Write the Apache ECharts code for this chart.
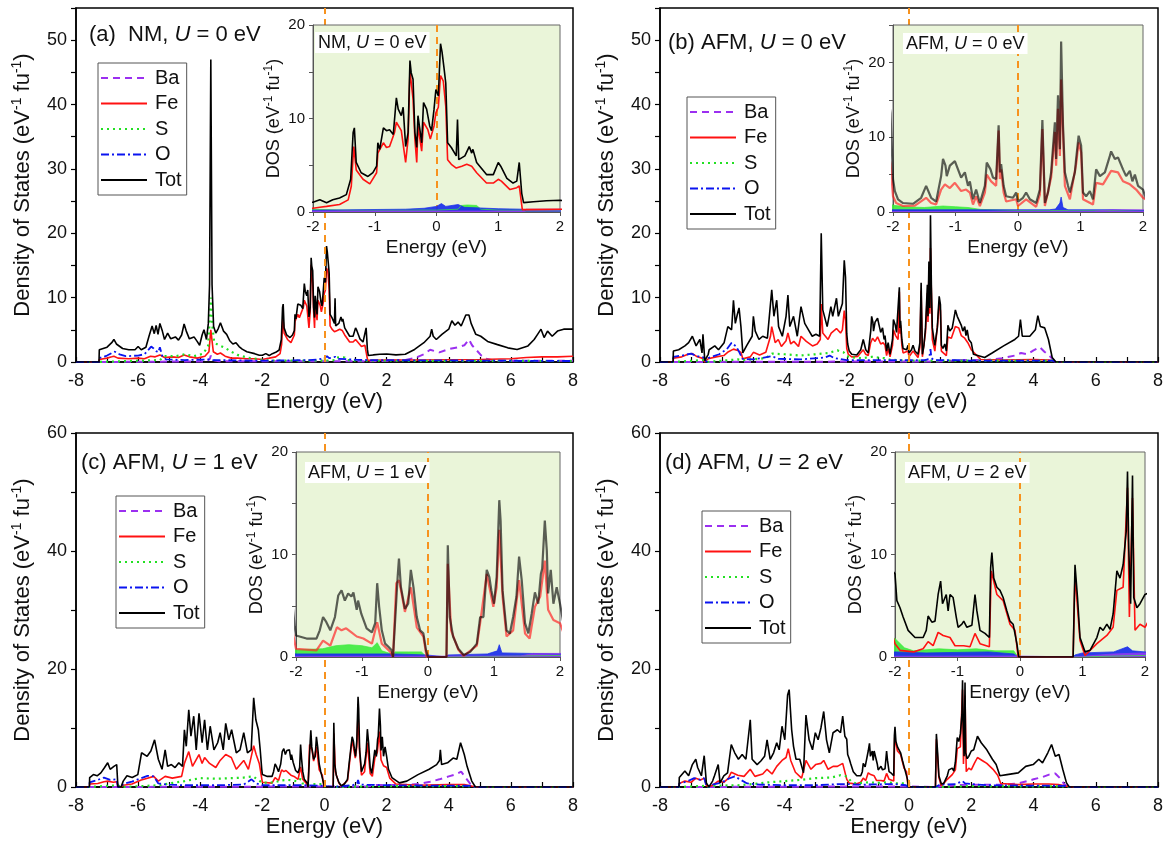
<!DOCTYPE html>
<html>
<head>
<meta charset="utf-8">
<script src="https://cdn.jsdelivr.net/npm/echarts@6/dist/echarts.min.js"></script>
<style>
html,body{margin:0;padding:0;background:#fff}
#chart{width:1167px;height:847px}
</style>
</head>
<body>
<div id="chart"></div>
<script>
// ---------- Projected DOS, [energy (eV), DOS (eV^-1 fu^-1)] ----------
// (a) NM, U = 0 eV
const tot_a = [[-8,0],[-7.26,0],[-7.25,1.9],[-7.0,2.3],[-6.85,3.0],[-6.78,3.5],[-6.7,2.8],[-6.5,2.1],[-6.3,1.9],[-6.1,1.9],[-6.0,2.4],[-5.9,1.9],[-5.75,2.3],[-5.65,4.0],[-5.55,5.6],[-5.48,4.4],[-5.42,5.7],[-5.36,4.3],[-5.3,6.0],[-5.22,4.8],[-5.15,3.5],[-5.05,4.5],[-4.95,3.6],[-4.8,3.9],[-4.7,3.4],[-4.6,4.2],[-4.52,5.9],[-4.45,4.8],[-4.35,3.6],[-4.2,3.9],[-4.1,3.2],[-4.02,2.6],[-3.94,4.2],[-3.88,5.0],[-3.8,3.5],[-3.74,6.0],[-3.7,12.0],[-3.66,47.0],[-3.62,12.0],[-3.57,5.5],[-3.5,4.5],[-3.42,5.2],[-3.35,6.1],[-3.25,4.8],[-3.15,4.3],[-3.05,3.3],[-2.95,2.8],[-2.85,3.0],[-2.75,2.4],[-2.65,2.0],[-2.5,1.6],[-2.25,1.3],[-2.1,1.05],[-2.0,1.04],[-1.89,1.3],[-1.78,1.0],[-1.68,1.3],[-1.57,1.5],[-1.46,1.86],[-1.39,3.5],[-1.35,8.5],[-1.33,9.0],[-1.30,5.3],[-1.22,4.2],[-1.11,3.8],[-1.03,4.2],[-0.97,4.9],[-0.95,7.4],[-0.92,6.7],[-0.86,9.0],[-0.81,8.7],[-0.76,8.8],[-0.70,8.3],[-0.65,12.2],[-0.62,11.0],[-0.57,10.3],[-0.54,11.2],[-0.50,7.0],[-0.46,8.5],[-0.43,16.2],[-0.41,14.9],[-0.38,14.2],[-0.35,8.5],[-0.32,6.9],[-0.30,10.3],[-0.24,7.4],[-0.21,11.7],[-0.16,11.0],[-0.11,9.2],[-0.08,8.7],[-0.04,11.0],[-0.01,13.1],[0.03,12.4],[0.065,18.0],[0.09,17.1],[0.12,15.5],[0.15,13.8],[0.18,7.4],[0.24,6.9],[0.32,6.0],[0.34,9.9],[0.36,5.6],[0.46,6.0],[0.53,7.0],[0.57,6.3],[0.59,6.7],[0.65,5.3],[0.81,4.0],[0.92,4.0],[1.0,5.3],[1.04,4.9],[1.14,3.6],[1.24,3.1],[1.30,3.3],[1.34,5.3],[1.38,2.0],[1.41,1.0],[1.57,1.1],[1.78,1.2],[2.0,1.25],[2.3,1.1],[2.6,1.2],[2.9,1.95],[3.2,3.0],[3.4,4.0],[3.45,5.1],[3.5,4.0],[3.6,3.5],[3.78,4.3],[4.0,5.1],[4.1,6.4],[4.2,5.7],[4.3,6.2],[4.4,5.6],[4.55,7.3],[4.65,7.3],[4.72,6.0],[4.87,4.3],[5.03,4.0],[5.25,3.2],[5.57,2.7],[5.9,2.2],[6.2,1.95],[6.55,2.5],[6.75,3.5],[6.86,4.3],[6.97,5.1],[7.07,3.8],[7.18,4.8],[7.33,4.0],[7.5,4.8],[7.7,5.1],[8.0,5.1]];
const fe_a = [[-8,0],[-7.26,0],[-7.25,0.4],[-7.0,0.6],[-6.85,0.8],[-6.78,0.9],[-6.65,0.6],[-6.3,0.5],[-6.0,0.6],[-5.8,0.5],[-5.6,0.9],[-5.45,0.8],[-5.3,1.1],[-5.15,0.7],[-4.9,0.8],[-4.7,0.7],[-4.52,1.1],[-4.35,0.8],[-4.1,0.6],[-3.85,0.9],[-3.72,1.6],[-3.66,5.0],[-3.58,1.6],[-3.45,1.2],[-3.35,1.4],[-3.2,0.9],[-3.0,0.6],[-2.8,0.6],[-2.5,0.5],[-2.25,0.5],[-2.0,0.4],[-1.89,0.5],[-1.78,0.6],[-1.57,0.8],[-1.43,1.3],[-1.38,2.75],[-1.34,7.0],[-1.30,4.5],[-1.19,3.5],[-1.08,3.0],[-0.97,4.2],[-0.95,6.3],[-0.86,7.4],[-0.81,6.9],[-0.76,7.0],[-0.68,8.5],[-0.65,9.6],[-0.57,8.7],[-0.50,5.3],[-0.46,7.8],[-0.43,15.1],[-0.38,12.1],[-0.35,7.8],[-0.32,5.3],[-0.30,9.2],[-0.24,6.5],[-0.21,9.6],[-0.14,8.8],[-0.10,7.8],[-0.04,9.2],[-0.01,10.6],[0.03,11.2],[0.065,14.6],[0.11,14.0],[0.15,11.3],[0.18,5.6],[0.24,5.1],[0.32,4.7],[0.41,4.9],[0.49,5.1],[0.57,4.9],[0.65,4.2],[0.81,3.1],[0.92,3.1],[1.0,3.5],[1.05,3.3],[1.19,2.4],[1.30,2.6],[1.34,2.8],[1.39,0.25],[2.0,0.3],[3.0,0.3],[4.0,0.35],[5.0,0.4],[6.0,0.5],[6.5,0.7],[7.0,0.8],[7.5,0.8],[8.0,0.9]];
const s_a = [[-8,0],[-7.26,0],[-7.25,0.2],[-6.0,0.2],[-5.3,0.3],[-5.15,0.9],[-4.8,0.9],[-4.5,1.2],[-4.2,0.9],[-3.9,1.3],[-3.75,2.5],[-3.7,6.0],[-3.66,10.0],[-3.62,6.0],[-3.55,3.0],[-3.4,2.6],[-3.2,2.2],[-3.0,1.6],[-2.8,1.1],[-2.5,0.7],[-2.2,0.5],[-2.0,0.3],[-1.5,0.2],[0.0,0.2],[0.35,0.3],[0.4,0.7],[0.5,0.75],[0.65,0.7],[0.72,0.3],[1.0,0.2],[1.4,0.2],[1.45,0.1],[8,0.15]];
const o_a = [[-8,0],[-7.26,0],[-7.25,0.6],[-7.0,1.0],[-6.85,1.4],[-6.75,1.6],[-6.6,1.2],[-6.4,0.9],[-6.0,1.0],[-5.8,1.2],[-5.65,2.0],[-5.58,2.4],[-5.5,2.1],[-5.42,1.7],[-5.35,1.5],[-5.3,2.3],[-5.22,0.9],[-5.1,0.4],[-4.5,0.3],[-3.7,0.4],[-3.6,0.3],[-2.0,0.2],[-0.5,0.3],[-0.2,0.4],[0.0,0.6],[0.08,0.9],[0.15,0.6],[0.35,0.8],[0.45,0.5],[1.0,0.35],[1.4,0.3],[1.45,0.1],[8,0.15]];
const ba_a = [[-8,0],[-7.26,0],[-7.25,0.1],[-3.8,0.1],[-3.69,0.5],[-3.66,1.0],[-3.6,0.3],[-3.4,0.1],[1.4,0.1],[1.45,0.3],[2.6,0.3],[2.9,0.6],[3.2,1.2],[3.4,1.9],[3.55,1.7],[3.7,1.5],[4.0,2.0],[4.3,2.3],[4.5,2.6],[4.65,3.5],[4.75,2.6],[4.9,1.8],[5.05,1.0],[5.2,0.5],[5.5,0.2],[8,0.2]];

// (b) AFM, U = 0 eV
const tot_b = [[-8,0],[-7.58,0],[-7.57,1.7],[-7.4,1.9],[-7.2,2.5],[-7.08,3.0],[-6.96,4.0],[-6.84,2.5],[-6.72,3.5],[-6.65,1.4],[-6.62,4.3],[-6.56,0.2],[-6.5,0],[-6.45,1.2],[-6.42,1.9],[-6.24,2.5],[-6.12,1.9],[-5.94,3.0],[-5.82,5.5],[-5.7,5.0],[-5.64,9.6],[-5.58,6.0],[-5.52,7.3],[-5.46,8.4],[-5.4,5.5],[-5.34,1.4],[-5.22,2.5],[-5.04,4.0],[-5.0,7.1],[-4.94,4.8],[-4.82,3.5],[-4.7,4.0],[-4.55,3.7],[-4.41,11.2],[-4.34,7.1],[-4.25,9.6],[-4.19,5.5],[-4.07,4.0],[-3.95,7.1],[-3.89,10.4],[-3.83,5.5],[-3.71,7.1],[-3.59,4.0],[-3.47,8.6],[-3.35,6.0],[-3.23,5.0],[-3.11,4.0],[-2.99,4.3],[-2.87,4.0],[-2.82,20.0],[-2.77,8.1],[-2.63,5.5],[-2.51,8.6],[-2.45,7.1],[-2.33,9.9],[-2.27,7.1],[-2.14,9.1],[-2.08,15.8],[-2.04,13.2],[-2.0,4.4],[-1.97,2.8],[-1.92,1.7],[-1.84,1.2],[-1.68,1.1],[-1.55,1.9],[-1.47,3.5],[-1.39,1.9],[-1.31,1.4],[-1.23,4.8],[-1.2,7.1],[-1.16,6.2],[-1.14,4.8],[-1.09,6.2],[-1.01,6.8],[-0.96,5.7],[-0.91,4.6],[-0.85,5.3],[-0.8,3.5],[-0.77,4.1],[-0.72,1.7],[-0.67,3.0],[-0.61,1.2],[-0.53,3.5],[-0.5,6.6],[-0.44,5.7],[-0.4,4.6],[-0.35,4.4],[-0.31,11.6],[-0.29,5.3],[-0.27,6.4],[-0.23,3.5],[-0.19,2.1],[-0.08,1.9],[-0.03,2.6],[0.0,1.4],[0.08,1.9],[0.13,2.6],[0.19,1.7],[0.29,1.2],[0.35,3.0],[0.39,12.3],[0.43,1.2],[0.48,2.6],[0.53,5.3],[0.59,12.0],[0.61,7.1],[0.64,15.6],[0.67,8.4],[0.69,22.8],[0.72,11.6],[0.75,5.3],[0.8,3.5],[0.83,2.6],[0.91,5.3],[0.93,7.1],[0.97,10.2],[1.01,8.9],[1.04,2.6],[1.09,2.1],[1.15,2.8],[1.2,1.7],[1.25,5.7],[1.31,4.8],[1.39,5.3],[1.47,7.5],[1.49,8.1],[1.55,7.1],[1.6,7.3],[1.68,5.7],[1.73,4.8],[1.79,5.5],[1.83,4.1],[1.87,5.0],[1.92,3.5],[2.0,3.0],[2.07,1.2],[2.43,0.7],[2.67,1.4],[3.04,2.5],[3.4,3.5],[3.52,4.0],[3.58,6.6],[3.64,4.0],[3.88,4.0],[4.06,5.0],[4.14,7.2],[4.22,5.5],[4.36,5.3],[4.48,3.5],[4.6,0.7],[4.72,0],[8,0]];
const fe_b = [[-8,0],[-7.58,0],[-7.57,0.6],[-7.3,0.8],[-7.1,1.2],[-6.96,1.3],[-6.8,0.8],[-6.65,0.6],[-6.56,0],[-6.5,0],[-6.45,0.5],[-6.2,0.8],[-5.95,1.0],[-5.8,1.6],[-5.64,2.0],[-5.5,1.8],[-5.4,1.5],[-5.34,0.5],[-5.1,0.8],[-5.0,1.5],[-4.8,1.1],[-4.6,1.5],[-4.45,4.0],[-4.41,5.5],[-4.3,3.0],[-4.2,3.5],[-4.1,2.4],[-3.95,3.3],[-3.89,4.5],[-3.8,2.8],[-3.7,3.2],[-3.55,2.4],[-3.47,4.0],[-3.3,3.2],[-3.1,2.5],[-2.95,2.8],[-2.85,3.5],[-2.82,9.0],[-2.77,4.5],[-2.6,3.5],[-2.5,4.5],[-2.33,5.2],[-2.2,4.5],[-2.14,5.0],[-2.08,8.0],[-2.04,6.5],[-2.0,2.1],[-1.95,1.2],[-1.84,0.8],[-1.65,0.85],[-1.47,1.9],[-1.39,1.2],[-1.31,1.0],[-1.23,3.0],[-1.17,3.7],[-1.09,3.2],[-1.01,3.9],[-0.91,2.8],[-0.83,3.0],[-0.77,2.6],[-0.72,1.0],[-0.67,2.1],[-0.61,0.8],[-0.53,2.6],[-0.5,5.0],[-0.43,4.1],[-0.35,3.5],[-0.31,10.9],[-0.29,4.4],[-0.27,5.7],[-0.23,2.6],[-0.19,1.4],[-0.03,1.7],[0.0,0.8],[0.13,1.7],[0.29,0.7],[0.35,2.3],[0.39,11.1],[0.43,0.8],[0.53,4.6],[0.59,10.7],[0.61,6.2],[0.64,13.8],[0.67,7.5],[0.69,17.7],[0.72,10.7],[0.75,3.5],[0.83,1.7],[0.93,6.4],[0.97,9.3],[1.01,8.0],[1.04,1.7],[1.2,1.0],[1.25,3.9],[1.36,3.7],[1.49,5.5],[1.6,5.3],[1.68,4.1],[1.79,3.7],[1.89,3.0],[2.0,1.9],[2.3,0.4],[3.0,0.3],[4.0,0.4],[4.5,0.3],[4.72,0],[8,0]];
const s_b = [[-8,0],[-7.58,0],[-7.57,0.3],[-6.6,0.3],[-6.5,0],[-6.45,0.3],[-5.5,0.4],[-5.3,0.3],[-4.6,0.6],[-4.4,1.3],[-4.0,1.2],[-3.5,1.0],[-3.0,1.2],[-2.6,1.4],[-2.3,1.8],[-2.1,1.5],[-2.0,0.9],[-1.8,0.7],[-1.5,0.6],[-1.2,0.8],[-1.0,0.7],[-0.8,0.6],[-0.6,0.35],[0.0,0.2],[2.0,0.2],[4.6,0.2],[4.72,0],[8,0]];
const o_b = [[-8,0],[-7.58,0],[-7.57,0.8],[-7.3,1.0],[-7.0,1.3],[-6.8,0.9],[-6.6,0.7],[-6.5,0],[-6.45,0.6],[-6.1,1.2],[-5.85,2.0],[-5.7,3.0],[-5.55,2.4],[-5.45,1.5],[-5.35,0.5],[-5.0,0.4],[-4.4,0.9],[-4.2,0.5],[-3.5,0.4],[-2.7,0.7],[-2.55,1.0],[-2.4,0.6],[-2.0,0.3],[0.5,0.3],[0.6,0.4],[0.67,1.2],[0.69,2.0],[0.72,0.6],[0.8,0.3],[1.5,0.3],[2.0,0.2],[4.6,0.2],[4.72,0],[8,0]];
const ba_b = [[-8,0],[-7.58,0],[-7.57,0.1],[1.2,0.1],[1.5,0.3],[2.5,0.3],[3.0,0.6],[3.4,1.0],[3.6,1.4],[3.8,1.2],[4.0,1.8],[4.2,2.3],[4.35,1.6],[4.5,1.0],[4.65,0.3],[4.72,0],[8,0]];

// (c) AFM, U = 1 eV
const tot_c = [[-8,0],[-7.57,0],[-7.56,1.6],[-7.44,2.1],[-7.32,1.9],[-7.2,2.4],[-7.08,3.3],[-6.98,4.1],[-6.9,3.0],[-6.78,3.5],[-6.69,3.8],[-6.65,0],[-6.55,0],[-6.48,1.0],[-6.36,1.9],[-6.19,1.6],[-6.01,2.1],[-5.89,5.8],[-5.71,5.2],[-5.59,6.1],[-5.47,8.0],[-5.35,4.7],[-5.23,3.0],[-5.13,6.3],[-5.05,3.5],[-4.93,3.8],[-4.81,3.3],[-4.69,4.1],[-4.57,3.5],[-4.51,9.7],[-4.45,6.9],[-4.37,13.1],[-4.30,8.6],[-4.21,12.0],[-4.13,6.3],[-4.04,12.5],[-3.94,7.5],[-3.86,11.4],[-3.77,6.3],[-3.68,10.3],[-3.56,6.3],[-3.44,7.5],[-3.36,9.2],[-3.26,6.3],[-3.18,10.8],[-3.08,8.0],[-2.99,9.7],[-2.84,5.8],[-2.72,6.3],[-2.6,9.2],[-2.48,5.8],[-2.36,6.3],[-2.28,15.1],[-2.21,11.4],[-2.13,9.7],[-2.07,6.3],[-2.02,3.0],[-2.0,2.1],[-1.84,1.8],[-1.69,1.8],[-1.64,2.6],[-1.59,3.9],[-1.54,3.4],[-1.48,2.6],[-1.41,3.9],[-1.36,6.0],[-1.31,6.5],[-1.26,5.5],[-1.21,6.2],[-1.16,5.9],[-1.13,6.3],[-1.08,4.6],[-1.06,5.5],[-1.01,4.2],[-0.93,2.8],[-0.85,2.4],[-0.80,3.3],[-0.77,7.2],[-0.74,4.9],[-0.70,2.6],[-0.65,1.3],[-0.60,1.0],[-0.55,0.65],[-0.53,0],[-0.51,0],[-0.5,3.3],[-0.46,7.8],[-0.44,9.6],[-0.41,6.8],[-0.35,4.7],[-0.30,5.2],[-0.26,8.5],[-0.22,6.8],[-0.17,3.9],[-0.12,2.6],[-0.07,2.3],[-0.03,0.65],[0.0,0],[0.28,0],[0.30,10.9],[0.33,3.9],[0.38,2.0],[0.46,0.8],[0.54,0.2],[0.64,0.5],[0.74,1.3],[0.79,3.9],[0.84,3.9],[0.89,8.5],[0.93,7.8],[0.96,6.5],[1.0,5.2],[1.04,7.8],[1.08,15.3],[1.10,13.3],[1.13,6.5],[1.19,2.6],[1.24,2.3],[1.29,3.9],[1.34,5.9],[1.38,9.8],[1.42,7.5],[1.47,3.3],[1.52,2.3],[1.57,4.2],[1.62,6.3],[1.67,5.2],[1.71,8.1],[1.73,8.6],[1.77,13.3],[1.80,10.4],[1.82,6.2],[1.86,8.5],[1.90,5.2],[1.95,6.8],[2.0,5.2],[2.06,3.0],[2.17,1.6],[2.41,0.7],[2.65,1.0],[3.01,2.1],[3.37,3.0],[3.61,3.8],[3.7,4.5],[3.73,6.3],[3.77,3.8],[3.96,4.1],[4.14,4.9],[4.26,4.7],[4.38,7.5],[4.5,5.5],[4.59,3.5],[4.74,1.0],[4.86,0],[8,0]];
const fe_c = [[-8,0],[-7.57,0],[-7.56,0.5],[-7.3,0.6],[-7.1,0.9],[-6.98,1.0],[-6.8,0.8],[-6.69,0.9],[-6.65,0],[-6.55,0],[-6.48,0.3],[-6.2,0.5],[-5.9,1.2],[-5.7,1.5],[-5.5,1.8],[-5.35,1.0],[-5.13,1.8],[-4.9,1.5],[-4.6,1.8],[-4.51,4.0],[-4.37,6.0],[-4.25,3.5],[-4.04,5.5],[-3.94,4.0],[-3.86,5.0],[-3.7,4.0],[-3.5,3.3],[-3.36,4.5],[-3.18,5.5],[-3.0,5.0],[-2.84,3.0],[-2.6,4.5],[-2.45,3.0],[-2.28,7.0],[-2.2,5.5],[-2.1,4.0],[-2.0,0.8],[-1.69,0.65],[-1.59,1.6],[-1.48,1.1],[-1.38,2.9],[-1.31,2.6],[-1.24,2.8],[-1.16,2.4],[-1.08,2.0],[-0.98,1.8],[-0.85,1.3],[-0.77,3.4],[-0.70,1.3],[-0.57,0.5],[-0.53,0],[-0.51,0],[-0.48,7.2],[-0.44,7.5],[-0.40,6.2],[-0.35,4.4],[-0.26,6.8],[-0.17,2.9],[-0.07,2.0],[-0.02,0],[0.28,0],[0.30,9.1],[0.35,2.6],[0.46,0.7],[0.54,0.1],[0.74,1.1],[0.79,3.3],[0.89,8.1],[0.99,4.9],[1.04,6.8],[1.08,12.4],[1.13,5.9],[1.19,2.0],[1.29,2.6],[1.38,7.5],[1.47,2.3],[1.54,1.8],[1.62,4.9],[1.70,5.9],[1.77,9.4],[1.82,4.6],[1.90,3.6],[2.0,3.3],[2.1,1.5],[2.3,0.5],[3.0,0.3],[4.0,0.4],[4.5,0.4],[4.7,0.2],[4.86,0],[8,0]];
const s_c = [[-8,0],[-7.57,0],[-7.56,0.3],[-6.65,0.3],[-6.64,0],[-6.55,0],[-6.5,0.3],[-5.3,0.3],[-5.0,0.6],[-4.5,1.0],[-4.0,1.5],[-3.5,1.4],[-3.0,1.5],[-2.6,1.6],[-2.3,1.8],[-2.0,0.7],[-1.6,0.8],[-1.4,1.1],[-1.2,1.2],[-1.0,1.1],[-0.85,0.9],[-0.77,1.4],[-0.7,0.6],[-0.55,0.3],[-0.53,0],[-0.5,0.5],[-0.3,0.5],[-0.1,0.5],[-0.02,0],[0.28,0],[0.3,0.1],[2.0,0.15],[4.7,0.15],[4.86,0],[8,0]];
const o_c = [[-8,0],[-7.57,0],[-7.56,0.8],[-7.3,1.2],[-7.1,1.6],[-6.9,1.2],[-6.69,1.3],[-6.65,0],[-6.55,0],[-6.48,0.5],[-6.2,0.9],[-5.9,1.5],[-5.7,1.9],[-5.5,1.8],[-5.35,0.6],[-5.0,0.4],[-4.5,0.3],[-3.5,0.3],[-2.6,0.4],[-2.35,1.3],[-2.2,0.6],[-2.0,0.3],[-0.53,0.3],[-0.02,0.2],[0.28,0],[0.3,0.2],[0.9,0.3],[1.05,0.6],[1.08,1.2],[1.12,0.4],[2.0,0.3],[4.7,0.2],[4.86,0],[8,0]];
const ba_c = [[-8,0],[-7.57,0],[-7.56,0.1],[1.4,0.1],[1.6,0.35],[2.5,0.35],[3.0,0.5],[3.4,0.9],[3.7,1.3],[4.0,1.8],[4.2,2.1],[4.4,2.6],[4.55,1.5],[4.7,0.5],[4.86,0],[8,0]];

// (d) AFM, U = 2 eV
const tot_d = [[-8,0],[-7.39,0],[-7.38,1.6],[-7.2,2.7],[-7.08,1.9],[-6.96,3.8],[-6.85,4.7],[-6.79,3.3],[-6.67,1.9],[-6.58,5.3],[-6.51,0.7],[-6.43,0],[-6.31,1.0],[-6.25,1.9],[-6.13,3.8],[-6.07,0.7],[-5.95,1.9],[-5.83,2.4],[-5.71,7.2],[-5.6,5.8],[-5.48,4.7],[-5.36,5.5],[-5.24,4.7],[-5.1,11.4],[-5.04,4.7],[-4.88,3.8],[-4.76,4.4],[-4.64,5.2],[-4.56,8.0],[-4.46,4.7],[-4.35,5.8],[-4.25,7.5],[-4.17,6.3],[-4.08,10.3],[-3.99,8.0],[-3.9,15.6],[-3.85,16.5],[-3.77,9.7],[-3.71,6.9],[-3.63,4.7],[-3.51,4.7],[-3.39,2.4],[-3.31,12.2],[-3.21,8.0],[-3.1,6.3],[-3.01,9.2],[-2.92,8.0],[-2.83,10.0],[-2.74,12.8],[-2.65,8.0],[-2.56,5.8],[-2.44,9.2],[-2.3,9.7],[-2.2,9.2],[-2.13,12.0],[-2.06,8.6],[-2.0,8.1],[-1.97,5.5],[-1.92,4.8],[-1.87,3.9],[-1.79,2.6],[-1.68,1.9],[-1.55,1.9],[-1.5,2.6],[-1.47,4.0],[-1.41,3.4],[-1.36,3.5],[-1.31,6.1],[-1.27,7.4],[-1.24,5.2],[-1.18,6.1],[-1.15,4.5],[-1.12,6.1],[-1.07,5.8],[-1.02,3.9],[-0.99,2.9],[-0.93,3.2],[-0.9,3.5],[-0.85,2.9],[-0.77,3.1],[-0.72,6.1],[-0.69,4.5],[-0.64,2.6],[-0.56,2.3],[-0.49,1.9],[-0.47,8.7],[-0.45,10.2],[-0.42,7.7],[-0.37,6.8],[-0.32,6.5],[-0.27,5.8],[-0.21,4.5],[-0.16,3.5],[-0.11,3.2],[-0.05,1.3],[-0.02,0],[0.49,0],[0.5,0.15],[0.52,0],[0.85,0],[0.88,9.0],[0.92,5.8],[0.96,1.9],[1.04,0.5],[1.12,0.65],[1.23,1.9],[1.28,2.9],[1.33,2.6],[1.39,3.2],[1.44,2.7],[1.49,4.2],[1.55,8.4],[1.6,7.7],[1.65,9.0],[1.7,12.3],[1.72,18.1],[1.74,10.6],[1.77,5.2],[1.8,17.7],[1.82,5.8],[1.87,4.8],[1.92,5.2],[2.0,6.1],[2.08,6.3],[2.2,8.6],[2.32,7.5],[2.5,6.3],[2.68,4.7],[2.8,3.8],[2.92,1.9],[3.15,2.1],[3.51,2.4],[3.75,3.5],[3.99,3.8],[4.17,4.7],[4.29,4.1],[4.46,5.8],[4.58,7.2],[4.7,5.2],[4.82,5.5],[4.94,3.0],[5.06,0.7],[5.15,0],[8,0]];
const fe_d = [[-8,0],[-7.39,0],[-7.38,0.6],[-7.2,1.0],[-7.0,0.8],[-6.85,1.5],[-6.7,1.2],[-6.58,1.5],[-6.51,0.3],[-6.43,0],[-6.31,0.3],[-6.13,1.0],[-5.95,0.8],[-5.8,1.5],[-5.71,2.5],[-5.5,2.0],[-5.3,1.8],[-5.1,3.0],[-4.95,1.8],[-4.7,2.2],[-4.56,3.0],[-4.4,2.2],[-4.25,3.5],[-4.08,4.5],[-3.95,5.0],[-3.88,6.5],[-3.8,4.5],[-3.65,2.5],[-3.45,1.5],[-3.31,4.5],[-3.15,3.0],[-3.0,3.8],[-2.83,4.0],[-2.74,4.5],[-2.6,3.0],[-2.44,3.5],[-2.3,3.5],[-2.13,4.0],[-2.0,1.3],[-1.92,0.65],[-1.7,0.5],[-1.55,0.8],[-1.47,1.5],[-1.39,1.1],[-1.31,2.4],[-1.23,2.1],[-1.12,1.9],[-1.04,1.1],[-0.9,1.1],[-0.8,1.0],[-0.72,2.3],[-0.64,1.3],[-0.49,1.0],[-0.46,8.4],[-0.37,6.1],[-0.27,5.5],[-0.16,3.2],[-0.08,2.6],[-0.03,0],[0.85,0],[0.88,8.1],[0.96,1.6],[1.04,0.15],[1.23,1.3],[1.39,2.1],[1.49,2.9],[1.55,6.5],[1.65,6.8],[1.72,16.5],[1.75,3.9],[1.8,15.5],[1.84,2.6],[1.92,3.2],[2.0,2.9],[2.1,4.0],[2.2,5.0],[2.35,4.5],[2.5,4.0],[2.7,3.0],[2.85,2.0],[2.95,0.6],[3.5,0.4],[4.0,0.5],[4.5,0.5],[4.8,0.4],[5.0,0.2],[5.15,0],[8,0]];
const s_d = [[-8,0],[-7.39,0],[-7.38,0.2],[-6.5,0.2],[-6.43,0],[-6.31,0.2],[-5.5,0.3],[-5.0,0.5],[-4.5,0.8],[-4.0,1.0],[-3.5,1.2],[-3.0,1.5],[-2.5,1.6],[-2.2,2.0],[-2.0,1.8],[-1.85,0.9],[-1.7,0.6],[-1.3,0.8],[-1.0,0.7],[-0.7,0.8],[-0.4,0.6],[-0.1,0.6],[-0.03,0],[0.85,0],[0.88,0.1],[2.0,0.15],[3.0,0.1],[5.0,0.1],[5.15,0],[8,0]];
const o_d = [[-8,0],[-7.39,0],[-7.38,0.6],[-7.1,1.0],[-6.9,1.5],[-6.7,1.2],[-6.58,1.5],[-6.51,0.2],[-6.43,0],[-6.31,0.4],[-6.0,0.8],[-5.8,1.4],[-5.6,1.8],[-5.4,1.2],[-5.2,0.6],[-4.8,0.4],[-4.0,0.3],[-3.0,0.3],[-2.2,0.5],[-2.0,0.5],[-1.5,0.4],[-0.5,0.5],[-0.1,0.3],[-0.03,0],[0.85,0],[0.88,0.2],[1.0,0.4],[1.5,0.5],[1.72,1.0],[1.8,0.6],[2.0,0.5],[2.5,0.3],[5.0,0.2],[5.15,0],[8,0]];
const ba_d = [[-8,0],[-7.39,0],[-7.38,0.1],[-0.03,0.1],[-0.02,0],[0.85,0],[0.88,0.1],[1.5,0.3],[2.0,0.4],[3.0,0.4],[3.5,0.6],[3.8,1.0],[4.0,1.3],[4.3,1.7],[4.5,2.1],[4.7,2.3],[4.85,1.5],[5.0,0.4],[5.15,0],[8,0]];

// ---------- panel text ----------
const panelTitles = ['(a)  NM, {i|U} = 0 eV', '(b) AFM, {i|U} = 0 eV', '(c) AFM, {i|U} = 1 eV', '(d) AFM, {i|U} = 2 eV'];
const insetTitles = ['NM, {i|U} = 0 eV', 'AFM, {i|U} = 0 eV', 'AFM, {i|U} = 1 eV', 'AFM, {i|U} = 2 eV'];
const legendNames = ['Ba', 'Fe', 'S', 'O', 'Tot'];
const mainYMax = [55, 55, 60, 60];
const mainYTick = [5, 5, 10, 10];
const mainYLabelStep = [10, 10, 20, 20];
const insetYMax = [20, 25, 20, 20];

// ---------- layout (pixels) ----------
const LAYOUT = [
  { main: [76, 8, 497, 354],    inset: [313, 25, 247, 187],  legend: [98, 63],   title: [89, 24],   insetTitle: [315, 32], soft: false },
  { main: [660, 8, 498, 354],   inset: [893, 25, 250, 187],  legend: [687, 97],  title: [668, 32],  insetTitle: [903, 33], soft: true },
  { main: [76, 433, 497, 354],  inset: [296, 452, 264, 205], legend: [116, 496], title: [81, 452],  insetTitle: [305, 462], soft: true },
  { main: [660, 433, 498, 354], inset: [895, 452, 250, 205], legend: [702, 511], title: [665, 452], insetTitle: [905, 462], soft: false }
];

const DATA = [
  { Ba: ba_a, Fe: fe_a, S: s_a, O: o_a, Tot: tot_a },
  { Ba: ba_b, Fe: fe_b, S: s_b, O: o_b, Tot: tot_b },
  { Ba: ba_c, Fe: fe_c, S: s_c, O: o_c, Tot: tot_c },
  { Ba: ba_d, Fe: fe_d, S: s_d, O: o_d, Tot: tot_d }
];

const FONT = 'Arial, "Liberation Sans", Helvetica, sans-serif';
const INK = '#111';
const FERMI = '#f7921e';
const MAIN_STYLE = {
  Ba:  { color: '#9b2ff0', type: [7, 5], width: 2 },
  Fe:  { color: '#ff1212', type: 'solid', width: 1.6 },
  S:   { color: '#22e022', type: [2, 4], width: 2.2 },
  O:   { color: '#0a14f0', type: [8, 3, 2, 3], width: 1.8 },
  Tot: { color: '#000000', type: 'solid', width: 1.6 }
};

// axis names with raised "-1" exponents
const mainYName = '{n|Density of States (eV}{s|-1}{n| fu}{s|-1}{n|)}';
const insetYName = '{n|DOS (eV}{s|-1}{n| fu}{s|-1}{n|)}';
const richSup = (big, small, lh) => ({
  n: { fontFamily: FONT, fontSize: big, lineHeight: lh, color: INK },
  s: { fontFamily: FONT, fontSize: small, verticalAlign: 'top', color: INK }
});

const grid = [], xAxis = [], yAxis = [], series = [], title = [], legend = [];

// main panels
LAYOUT.forEach((L, i) => {
  grid.push({ left: L.main[0], top: L.main[1], width: L.main[2], height: L.main[3], show: true,
    backgroundColor: '#fff', borderColor: '#000', borderWidth: 1.5, z: 0, outerBoundsMode: 'none', containLabel: false });
  xAxis.push({ gridIndex: i, type: 'value', min: -8, max: 8, interval: 1,
    axisLine: { show: true, onZero: false, lineStyle: { color: '#000', width: 1.5 } },
    axisTick: { show: true, inside: true, length: 5, lineStyle: { color: '#000', width: 1.2 } },
    axisLabel: { fontFamily: FONT, fontSize: 18, color: INK, margin: 10, formatter: v => (v % 2 === 0 ? String(v) : '') },
    splitLine: { show: false },
    name: 'Energy (eV)', nameLocation: 'middle', nameGap: 29,
    nameTextStyle: { fontFamily: FONT, fontSize: 22, color: INK } });
  yAxis.push({ gridIndex: i, type: 'value', min: 0, max: mainYMax[i], interval: mainYTick[i],
    axisLine: { show: true, onZero: false, lineStyle: { color: '#000', width: 1.5 } },
    axisTick: { show: true, inside: false, length: 5, lineStyle: { color: '#000', width: 1.2 } },
    axisLabel: { fontFamily: FONT, fontSize: 18, color: INK, margin: 9,
      formatter: v => (v % mainYLabelStep[i] === 0 ? String(v) : '') },
    splitLine: { show: false },
    name: mainYName, nameLocation: 'middle', nameGap: 40,
    nameTextStyle: { fontFamily: FONT, fontSize: 22, color: INK, rich: richSup(22, 14, 26) } });
});

// insets
LAYOUT.forEach((L, i) => {
  const g = 4 + i;
  grid.push({ left: L.inset[0], top: L.inset[1], width: L.inset[2], height: L.inset[3], show: true,
    backgroundColor: '#eaf5d9', borderColor: '#666', borderWidth: 1, z: 10, outerBoundsMode: 'none', containLabel: false });
  xAxis.push({ gridIndex: g, type: 'value', min: -2, max: 2, interval: 1, z: 11,
    axisLine: { show: true, onZero: false, lineStyle: { color: '#555', width: 1 } },
    axisTick: { show: true, inside: false, length: 4, lineStyle: { color: '#555' } },
    axisLabel: { fontFamily: FONT, fontSize: 15, color: INK, margin: 7 },
    splitLine: { show: false },
    name: 'Energy (eV)', nameLocation: 'middle', nameGap: 26,
    nameTextStyle: { fontFamily: FONT, fontSize: 19, color: INK } });
  yAxis.push({ gridIndex: g, type: 'value', min: 0, max: insetYMax[i], interval: 5, z: 11,
    axisLine: { show: true, onZero: false, lineStyle: { color: '#555', width: 1 } },
    axisTick: { show: true, inside: false, length: 4, lineStyle: { color: '#555' } },
    axisLabel: { fontFamily: FONT, fontSize: 15, color: INK, margin: 8,
      formatter: v => (v % 10 === 0 ? String(v) : '') },
    splitLine: { show: false },
    name: insetYName, nameLocation: 'middle', nameGap: 28,
    nameTextStyle: { fontFamily: FONT, fontSize: 18, color: INK, rich: richSup(18, 12, 22) } });
});

const fermiLine = (z) => ({ silent: true, symbol: ['none', 'none'], z: z, animation: false,
  label: { show: false }, emphasis: { disabled: true },
  lineStyle: { color: FERMI, type: [7, 5], width: 2 }, data: [{ xAxis: 0 }] });

// main curves (drawn first so legend icons take their style)
DATA.forEach((D, i) => {
  legendNames.forEach(name => {
    const st = MAIN_STYLE[name];
    const s = { name: name, type: 'line', xAxisIndex: i, yAxisIndex: i, data: D[name],
      showSymbol: false, symbol: 'none', z: 2, animation: false, silent: true,
      lineStyle: { color: st.color, type: st.type, width: st.width }, itemStyle: { color: st.color } };
    if (name === 'Tot') s.markLine = fermiLine(3);
    series.push(s);
  });
});

// inset curves
DATA.forEach((D, i) => {
  const g = 4 + i, soft = LAYOUT[i].soft;
  const fill = (name, color) => ({ name: name, type: 'line', xAxisIndex: g, yAxisIndex: g, data: D[name],
    showSymbol: false, symbol: 'none', z: 12, animation: false, silent: true,
    lineStyle: { color: color, width: 0.8 }, itemStyle: { color: color }, areaStyle: { color: color, opacity: 1 } });
  const sSeries = fill('S', 'rgba(60,235,60,0.9)');
  sSeries.markLine = fermiLine(12);
  series.push(sSeries);
  series.push(fill('O', 'rgba(25,45,235,0.92)'));
  series.push(fill('Ba', 'rgba(150,60,240,0.85)'));
  series.push({ name: 'Fe', type: 'line', xAxisIndex: g, yAxisIndex: g, data: D.Fe,
    showSymbol: false, symbol: 'none', z: 13, animation: false, silent: true,
    lineStyle: { color: soft ? 'rgba(255,40,40,0.7)' : '#ff1212', width: soft ? 2.2 : 1.6 } });
  series.push({ name: 'Tot', type: 'line', xAxisIndex: g, yAxisIndex: g, data: D.Tot,
    showSymbol: false, symbol: 'none', z: 14, animation: false, silent: true,
    lineStyle: { color: soft ? 'rgba(0,0,0,0.62)' : '#000', width: soft ? 2.2 : 1.6 } });
});

// titles and legends
const italicRich = (size) => ({ i: { fontFamily: FONT, fontSize: size, fontStyle: 'italic', color: INK } });
LAYOUT.forEach((L, i) => {
  title.push({ text: panelTitles[i], left: L.title[0], top: L.title[1], padding: 0, z: 20,
    textStyle: { fontFamily: FONT, fontSize: 22, fontWeight: 'normal', color: INK, rich: italicRich(22) } });
  title.push({ text: insetTitles[i], left: L.insetTitle[0], top: L.insetTitle[1], padding: [2, 3, 1, 3], z: 20,
    backgroundColor: '#fff',
    textStyle: { fontFamily: FONT, fontSize: 18, fontWeight: 'normal', color: INK, rich: italicRich(18) } });
  legend.push({ orient: 'vertical', left: L.legend[0], top: L.legend[1], data: legendNames,
    itemWidth: 46, itemHeight: 14, itemGap: 5.5, padding: [5, 5, 5, 2], z: 20,
    borderColor: '#555', borderWidth: 1, backgroundColor: '#fff', selectedMode: false,
    itemStyle: { opacity: 0 },
    textStyle: { fontFamily: FONT, fontSize: 20, color: INK, padding: [0, 0, 0, 3] } });
});

const chart = echarts.init(document.getElementById('chart'), null, { renderer: 'canvas' });
chart.setOption({ animation: false, backgroundColor: '#fff', title, legend, grid, xAxis, yAxis, series });
</script>
</body>
</html>
